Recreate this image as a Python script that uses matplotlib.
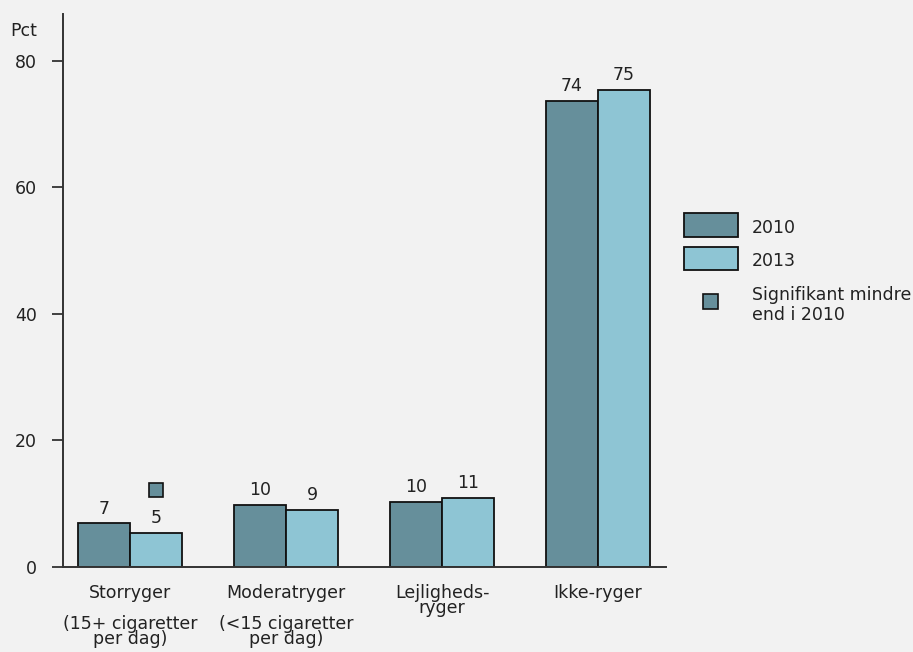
import matplotlib
matplotlib.use("Agg")
import matplotlib.pyplot as plt
import numpy as np
from matplotlib.patches import Rectangle

# smoking status shares, percent
categories = [
    "Storryger\n\n(15+ cigaretter\nper dag)",
    "Moderatryger\n\n(<15 cigaretter\nper dag)",
    "Lejligheds-\nryger",
    "Ikke-ryger",
]
years = ["2010", "2013"]
values_2010 = [6.9, 9.8, 10.3, 73.7]
values_2013 = [5.4, 9.0, 10.9, 75.4]
# categories where 2013 is significantly lower than 2010
significant = [True, False, False, False]
sig_label = "Signifikant mindre\nend i 2010"

BG = "#f2f2f2"
C2010 = "#668f9b"
C2013 = "#8ec5d4"
TXT = "#222222"
W, H = 913, 652
FS = 12.5

plt.rcParams["font.family"] = ["DejaVu Sans"]
plt.rcParams["font.size"] = FS

fig = plt.figure(figsize=(W / 100, H / 100), dpi=100, facecolor=BG)
ax = fig.add_axes([63 / W, (H - 567) / H, (666 - 63) / W, (567 - 14) / H])
ax.set_facecolor(BG)

x = np.arange(len(categories))
bw = 1 / 3
for offset, vals, col in [(-bw / 2, values_2010, C2010), (bw / 2, values_2013, C2013)]:
    bars = ax.bar(x + offset, vals, width=bw, color=col, edgecolor="#111111",
                  linewidth=1.3, zorder=2)
    for b, v in zip(bars, vals):
        ax.annotate(f"{round(v)}", (b.get_x() + b.get_width() / 2, v),
                    xytext=(0, 4), textcoords="offset points",
                    ha="center", va="bottom", color=TXT, fontsize=FS)

for i, s in enumerate(significant):
    if s:
        ax.plot(x[i] + bw / 2, values_2013[i] + 6.8, marker="s", markersize=10,
                markerfacecolor=C2010, markeredgecolor="#111111",
                markeredgewidth=1.2, linestyle="none", clip_on=False)

ax.set_xlim(-0.43, 3.436)
ax.set_ylim(0, 87.4)
ax.set_yticks([0, 20, 40, 60, 80])
ax.set_xticks(x)
ax.set_xticklabels(categories, color=TXT, fontsize=FS, linespacing=0.82)
ax.tick_params(axis="x", length=0, pad=12)
ax.tick_params(axis="y", length=8, width=1.3, color="#333333", labelcolor=TXT,
               labelsize=FS, pad=11)
for side in ["top", "right"]:
    ax.spines[side].set_visible(False)
for side in ["left", "bottom"]:
    ax.spines[side].set_color("#333333")
    ax.spines[side].set_linewidth(1.4)

fig.text(10 / W, 1 - 31 / H, "Pct", color=TXT, fontsize=FS, va="center", ha="left")

# legend drawn by hand on the right side
def fig_rect(x0, y0, w, h, color, lw=1.3):
    fig.add_artist(Rectangle((x0 / W, 1 - (y0 + h) / H), w / W, h / H,
                             facecolor=color, edgecolor="#111111", linewidth=lw,
                             transform=fig.transFigure))

fig_rect(684, 213, 54, 24, C2010)
fig.text(752 / W, 1 - 228 / H, years[0], color=TXT, fontsize=FS, va="center")
fig_rect(684, 247, 54, 23, C2013)
fig.text(752 / W, 1 - 261 / H, years[1], color=TXT, fontsize=FS, va="center")
fig_rect(703, 294, 15, 15, C2010, lw=1.2)
fig.text(752 / W, 1 - 305 / H, sig_label, color=TXT, fontsize=FS, va="center",
         linespacing=1.1)

fig.savefig("out.png", dpi=100, facecolor=BG)
